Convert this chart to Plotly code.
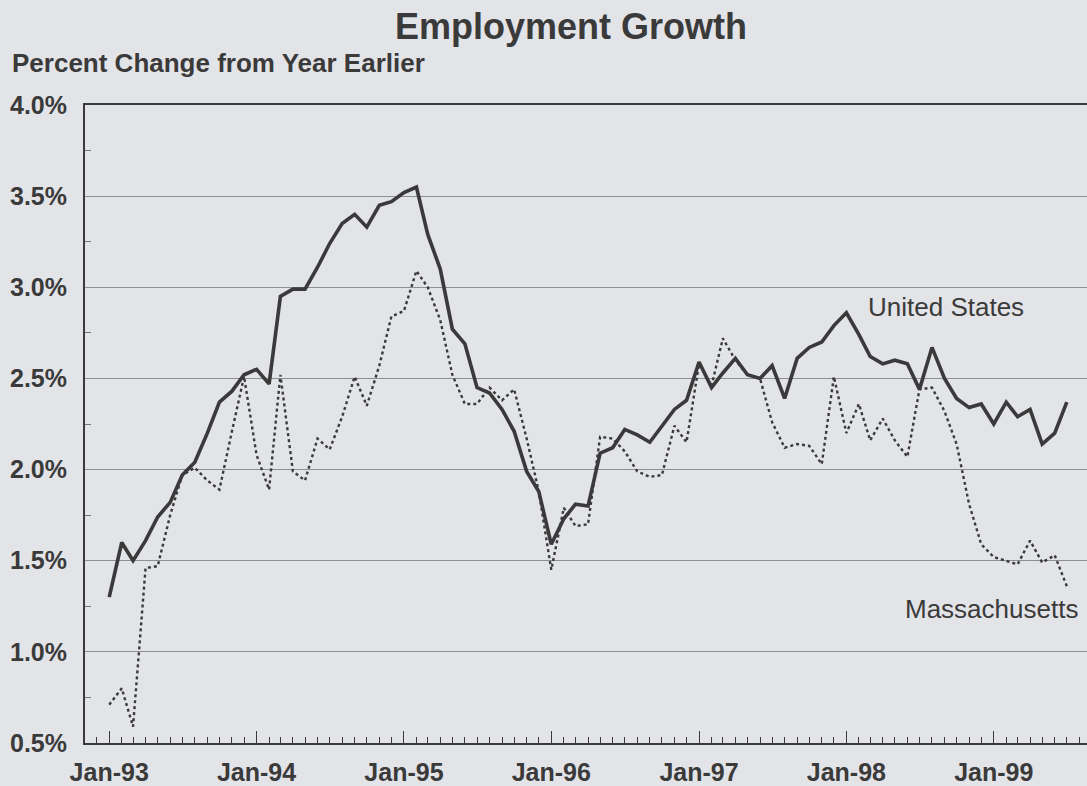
import pandas as pd
import plotly.graph_objects as go

months = pd.date_range("1993-01-01", periods=79, freq="MS")

us_growth = [
    1.30, 1.60, 1.50, 1.61, 1.74, 1.82, 1.97, 2.04, 2.20, 2.37, 2.43, 2.52,
    2.55, 2.47, 2.95, 2.99, 2.99, 3.11, 3.24, 3.35, 3.40, 3.33, 3.45, 3.47,
    3.52, 3.55, 3.29, 3.10, 2.77, 2.69, 2.45, 2.42, 2.33, 2.21, 1.99, 1.88,
    1.59, 1.73, 1.81, 1.80, 2.09, 2.12, 2.22, 2.19, 2.15, 2.24, 2.33, 2.38,
    2.59, 2.45, 2.53, 2.61, 2.52, 2.50, 2.57, 2.39, 2.61, 2.67, 2.70, 2.79,
    2.86, 2.74, 2.62, 2.58, 2.60, 2.58, 2.44, 2.67, 2.50, 2.39, 2.34, 2.36,
    2.25, 2.37, 2.29, 2.33, 2.14, 2.20, 2.37,
]

ma_growth = [
    0.71, 0.80, 0.59, 1.46, 1.47, 1.75, 1.97, 2.01, 1.94, 1.89, 2.21, 2.51,
    2.08, 1.89, 2.52, 1.99, 1.94, 2.17, 2.11, 2.29, 2.51, 2.35, 2.57, 2.84,
    2.87, 3.09, 3.00, 2.82, 2.52, 2.36, 2.36, 2.45, 2.38, 2.44, 2.17, 1.88,
    1.45, 1.79, 1.69, 1.70, 2.18, 2.17, 2.10, 1.99, 1.96, 1.97, 2.24, 2.15,
    2.58, 2.46, 2.72, 2.60, 2.52, 2.50, 2.26, 2.12, 2.14, 2.13, 2.03, 2.51,
    2.20, 2.36, 2.16, 2.28, 2.16, 2.07, 2.44, 2.45, 2.32, 2.14, 1.81, 1.59,
    1.52, 1.50, 1.48, 1.61, 1.49, 1.53, 1.36,
]

series_labels = ["United States", "Massachusetts"]
title_text = "Employment Growth"
subtitle_text = "Percent Change from Year Earlier"

INK = "#3a3a3a"
BG = "#e3e4e8"
FONT = "Liberation Sans, Arial, sans-serif"

fig = go.Figure()
fig.add_trace(go.Scatter(
    x=months, y=ma_growth, mode="lines", name=series_labels[1],
    line=dict(color=INK, width=2.4, dash="dot"), showlegend=False,
))
fig.add_trace(go.Scatter(
    x=months, y=us_growth, mode="lines", name=series_labels[0],
    line=dict(color=INK, width=3.6), showlegend=False,
))

fig.update_layout(
    width=1087, height=786,
    paper_bgcolor=BG, plot_bgcolor=BG,
    margin=dict(l=85, r=0, t=105, b=41, pad=0),
    font=dict(family=FONT, color=INK),
    title=dict(
        text="<b>" + title_text + "</b>",
        x=571 / 1087, xref="container", xanchor="center",
        y=1 - 26 / 786, yref="container", yanchor="middle",
        font=dict(size=36, color=INK, family=FONT),
    ),
    annotations=[
        dict(text="<b>" + subtitle_text + "</b>", xref="paper", yref="paper",
             x=(10 - 85) / 1002, y=(745 - 63) / 640, xanchor="left", yanchor="middle",
             showarrow=False, font=dict(size=26, color=INK, family=FONT)),
        dict(text=series_labels[0], xref="paper", yref="paper",
             x=(866 - 85) / 1002, y=(745 - 308) / 640, xanchor="left", yanchor="middle",
             showarrow=False, font=dict(size=26, color=INK, family=FONT)),
        dict(text=series_labels[1], xref="paper", yref="paper",
             x=(903 - 85) / 1002, y=(745 - 611) / 640, xanchor="left", yanchor="middle",
             showarrow=False, font=dict(size=26, color=INK, family=FONT)),
    ],
)

fig.update_xaxes(
    type="date",
    range=["1992-11-02", "1999-08-20"],
    tick0="1993-01-01", dtick="M12", tickformat="%b-%y",
    ticks="inside", ticklen=12, tickwidth=1, tickcolor=INK,
    minor=dict(dtick="M1", ticks="inside", ticklen=6, tickwidth=1, tickcolor=INK, showgrid=False),
    showgrid=False, zeroline=False,
    showline=True, linecolor=INK, linewidth=2, mirror=True,
    tickfont=dict(size=25, color=INK, family=FONT, weight="bold"),
    ticklabelstandoff=6,
)
fig.update_yaxes(
    range=[0.5, 4.0], dtick=0.5, tick0=0.5,
    tickformat=".1f", ticksuffix="%",
    ticks="", showgrid=True, gridcolor="#8e8f93", gridwidth=1,
    minor=dict(dtick=0.25, ticks="inside", ticklen=6, tickwidth=1, tickcolor="#777", showgrid=False),
    zeroline=False,
    showline=True, linecolor=INK, linewidth=2,
    tickfont=dict(size=25, color=INK, family=FONT, weight="bold"),
    ticklabelstandoff=11,
)

fig.write_html("out.html")
